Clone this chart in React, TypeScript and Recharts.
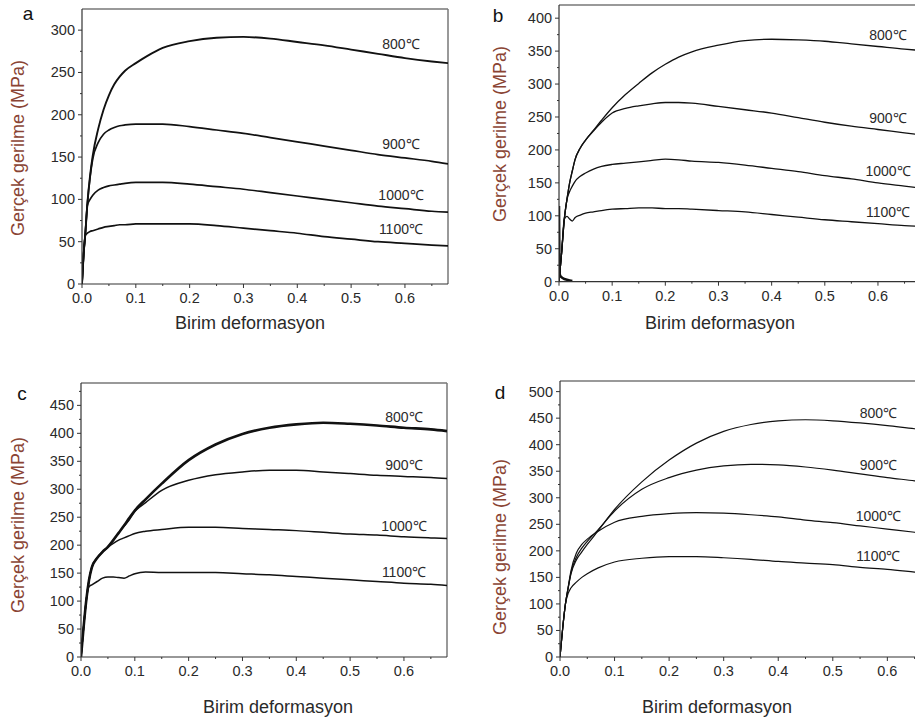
import React from "react";
import { LineChart, Line, XAxis, YAxis, ReferenceLine } from "recharts";

const temps = ["800℃", "900℃", "1000℃", "1100℃"];

// panel a
const strainA = [0, 0.003, 0.006, 0.01, 0.015, 0.02, 0.03, 0.04, 0.05, 0.06, 0.07, 0.08, 0.1, 0.12, 0.15, 0.2, 0.25, 0.3, 0.35, 0.4, 0.45, 0.5, 0.55, 0.6, 0.65, 0.68];
const a800 = [0, 35, 58, 95, 128, 152, 183, 206, 223, 236, 245, 252, 261, 269, 279, 287, 291, 292, 290, 286, 282, 277, 272, 267, 263, 261];
const a900 = [0, 35, 58, 95, 126, 148, 167, 177, 182, 185, 187, 188, 189, 189, 189, 186, 182, 178, 173, 168, 163, 158, 153, 149, 145, 142];
const a1000 = [0, 35, 58, 93, 100, 105, 111, 114, 116, 117, 118, 119, 120, 120, 120, 118, 115, 112, 108, 104, 100, 96, 92, 89, 86, 85];
const a1100 = [0, 35, 57, 60, 62, 63, 65, 67, 68, 69, 70, 70, 71, 71, 71, 71, 69, 66, 63, 60, 56, 53, 50, 48, 46, 45];

// panel b
const strainB = [0, 0.005, 0.01, 0.015, 0.02, 0.025, 0.03, 0.04, 0.05, 0.065, 0.08, 0.1, 0.125, 0.15, 0.175, 0.2, 0.225, 0.25, 0.3, 0.35, 0.4, 0.45, 0.5, 0.55, 0.6, 0.65, 0.68];
const b800 = [0, 45, 95, 125, 150, 168, 185, 203, 215, 230, 245, 264, 284, 301, 317, 330, 341, 349, 359, 366, 368, 367, 365, 361, 357, 353, 351];
const b900 = [0, 45, 95, 125, 150, 168, 185, 203, 215, 229, 242, 256, 263, 267, 270, 272, 272, 271, 266, 261, 256, 249, 242, 236, 231, 226, 223];
const b1000 = [0, 45, 95, 125, 137, 145, 152, 160, 165, 171, 175, 178, 180, 182, 184, 186, 185, 183, 181, 177, 172, 167, 161, 156, 150, 145, 142];
const b1100 = [0, 45, 95, 99, 95, 92, 97, 101, 104, 106, 108, 110, 111, 112, 112, 111, 111, 110, 108, 106, 102, 98, 94, 91, 88, 85, 84];
// the small spike and blob at the origin of panel b
const bNoiseStrain = [0, 0.001, 0.003, 0.006, 0.01, 0.015, 0.02, 0.025];
const bNoise = [115, 12, 8, 6, 4, 3, 2, 1];

// panel c
const strainC = [0, 0.005, 0.01, 0.015, 0.02, 0.03, 0.04, 0.05, 0.06, 0.07, 0.08, 0.09, 0.1, 0.12, 0.15, 0.2, 0.25, 0.3, 0.35, 0.4, 0.45, 0.5, 0.55, 0.6, 0.65, 0.68];
const c800 = [0, 55, 103, 138, 160, 177, 188, 197, 209, 222, 235, 249, 262, 282, 310, 352, 380, 399, 410, 416, 419, 417, 414, 410, 407, 404];
const c900 = [0, 55, 103, 138, 160, 177, 188, 197, 209, 222, 234, 246, 260, 276, 298, 316, 326, 331, 334, 334, 331, 328, 325, 323, 321, 319];
const c1000 = [0, 55, 103, 138, 160, 177, 188, 196, 203, 209, 213, 217, 221, 225, 228, 232, 232, 230, 228, 226, 223, 220, 218, 215, 213, 212];
const c1100 = [0, 55, 103, 126, 129, 135, 141, 143, 143, 142, 141, 145, 149, 152, 151, 151, 151, 149, 147, 144, 141, 138, 135, 132, 130, 128];

// panel d
const strainD = [0, 0.005, 0.01, 0.015, 0.02, 0.03, 0.04, 0.05, 0.07, 0.1, 0.15, 0.2, 0.25, 0.3, 0.35, 0.4, 0.45, 0.5, 0.55, 0.6, 0.65, 0.68];
const d800 = [0, 55, 100, 130, 156, 183, 198, 212, 238, 278, 330, 371, 403, 425, 438, 445, 447, 445, 441, 436, 430, 427];
const d900 = [0, 55, 100, 130, 158, 188, 205, 218, 240, 275, 316, 338, 352, 360, 363, 362, 358, 352, 345, 338, 332, 328];
const d1000 = [0, 55, 100, 132, 162, 196, 212, 222, 237, 254, 265, 270, 272, 271, 268, 264, 258, 253, 247, 241, 235, 231];
const d1100 = [0, 55, 100, 120, 130, 141, 150, 157, 168, 179, 186, 189, 189, 187, 184, 180, 177, 174, 169, 165, 160, 157];

const xTicks = [0, 0.05, 0.1, 0.15, 0.2, 0.25, 0.3, 0.35, 0.4, 0.45, 0.5, 0.55, 0.6, 0.65];
const yTicksA = [0, 25, 50, 75, 100, 125, 150, 175, 200, 225, 250, 275, 300];
const yTicksB = [0, 25, 50, 75, 100, 125, 150, 175, 200, 225, 250, 275, 300, 325, 350, 375, 400];
const yTicksC = [0, 25, 50, 75, 100, 125, 150, 175, 200, 225, 250, 275, 300, 325, 350, 375, 400, 425, 450, 475];
const yTicksD = [0, 25, 50, 75, 100, 125, 150, 175, 200, 225, 250, 275, 300, 325, 350, 375, 400, 425, 450, 475, 500];

const FONT = "'Liberation Sans', Arial, Helvetica, sans-serif";
const TEXT = "#2a2a2a";
const YTITLE = "#8a4434";

const YTick = (props: any) => {
  const { x, y, payload } = props;
  const major = Math.round(payload.value) % 50 === 0;
  return (
    <g>
      <line x1={x} x2={x - (major ? 4 : 2)} y1={y} y2={y} stroke="#333" strokeWidth={1} />
      {major && (
        <text x={x - 7} y={y + 5} textAnchor="end" fontSize={14.5} fill={TEXT} fontFamily={FONT}>
          {payload.value}
        </text>
      )}
    </g>
  );
};

const XTick = (props: any) => {
  const { x, y, payload } = props;
  const major = Math.round(payload.value * 100) % 10 === 0;
  return (
    <g>
      <line x1={x} x2={x} y1={y} y2={y + (major ? 4 : 2)} stroke="#333" strokeWidth={1} />
      {major && (
        <text x={x} y={y + 19} textAnchor="middle" fontSize={14.5} fill={TEXT} fontFamily={FONT}>
          {payload.value.toFixed(1)}
        </text>
      )}
    </g>
  );
};

type PanelProps = {
  left: number;
  top: number;
  w: number;
  h: number;
  yMax: number;
  yTicks: number[];
  strain: number[];
  series: number[][];
  widths: number[];
  labelDx: number;
  labelDy: number;
  noise?: { s: number; v: number }[];
};

const Panel = ({ left, top, w, h, yMax, yTicks, strain, series, widths, labelDx, labelDy, noise }: PanelProps) => {
  const rows = strain.map((s, i) => {
    const r: any = { s };
    series.forEach((arr, k) => (r["t" + k] = arr[i]));
    return r;
  });
  const labelIdx = strain.indexOf(0.6);
  return (
    <div style={{ position: "absolute", left: left - 50, top: top - 5 }}>
      <LineChart width={w + 55} height={h + 35} data={rows} margin={{ top: 5, right: 5, left: 0, bottom: 0 }}>
        <XAxis
          dataKey="s"
          type="number"
          domain={[0, 0.68]}
          ticks={xTicks}
          interval={0}
          height={30}
          tickSize={0}
          tickMargin={0}
          tickLine={false}
          tick={(p: any) => <XTick {...p} />}
          axisLine={{ stroke: "#333", strokeWidth: 1.2 }}
          allowDataOverflow
        />
        <YAxis
          type="number"
          domain={[0, yMax]}
          ticks={yTicks}
          interval={0}
          width={50}
          tickSize={0}
          tickMargin={0}
          tickLine={false}
          tick={(p: any) => <YTick {...p} />}
          axisLine={{ stroke: "#333", strokeWidth: 1.2 }}
          allowDataOverflow
        />
        <ReferenceLine y={yMax} stroke="#777" strokeWidth={1.5} />
        <ReferenceLine x={0.68} stroke="#777" strokeWidth={1.5} />
        {noise && (
          <Line
            data={noise}
            dataKey="v"
            type="linear"
            stroke="#111"
            strokeWidth={2.5}
            dot={false}
            isAnimationActive={false}
          />
        )}
        {series.map((_, k) => (
          <Line
            key={k}
            dataKey={"t" + k}
            type="monotone"
            stroke="#111"
            strokeWidth={widths[k]}
            dot={false}
            isAnimationActive={false}
            label={(p: any) =>
              p.index === labelIdx ? (
                <text
                  key={"l" + k}
                  x={p.x + labelDx}
                  y={p.y + labelDy + 5}
                  textAnchor="middle"
                  fontSize={14}
                  fill={TEXT}
                  fontFamily={FONT}
                >
                  {temps[k]}
                </text>
              ) : (
                <g key={"e" + p.index} />
              )
            }
          />
        ))}
      </LineChart>
    </div>
  );
};

const abs = (x: number, y: number, extra: React.CSSProperties = {}): React.CSSProperties => ({
  position: "absolute",
  left: x,
  top: y,
  transform: "translate(-50%, -50%)",
  whiteSpace: "nowrap",
  fontFamily: FONT,
  lineHeight: 1,
  ...extra,
});

export default function App() {
  const xTitle = { fontSize: 18, color: TEXT };
  const yTitle = { fontSize: 18, color: YTITLE, transform: "translate(-50%, -50%) rotate(-90deg)" };
  const letter = { fontSize: 19, color: "#111" };
  const noiseB = bNoiseStrain.map((s, i) => ({ s, v: bNoise[i] }));
  return (
    <div
      style={{
        position: "fixed",
        left: 0,
        top: 0,
        width: 915,
        height: 721,
        overflow: "hidden",
        background: "#fff",
      }}
    >
      <Panel left={81.7} top={9} w={366} h={275} yMax={325} yTicks={yTicksA} strain={strainA}
        series={[a800, a900, a1000, a1100]} widths={[1.9, 1.7, 1.7, 1.7]} labelDx={-4} labelDy={-14} />
      <Panel left={559.3} top={5} w={361.5} h={276.7} yMax={420} yTicks={yTicksB} strain={strainB}
        series={[b800, b900, b1000, b1100]} widths={[1.3, 1.3, 1.3, 1.3]} labelDx={10} labelDy={-12} noise={noiseB} />
      <Panel left={81} top={383.3} w={366} h={274} yMax={490} yTicks={yTicksC} strain={strainC}
        series={[c800, c900, c1000, c1100]} widths={[2.6, 1.5, 1.5, 1.5]} labelDx={0} labelDy={-11} />
      <Panel left={560} top={380.7} w={371} h={276} yMax={520} yTicks={yTicksD} strain={strainD}
        series={[d800, d900, d1000, d1100]} widths={[1.2, 1.2, 1.2, 1.2]} labelDx={-9} labelDy={-13} />

      <div style={abs(28, 13, letter)}>a</div>
      <div style={abs(498, 15, letter)}>b</div>
      <div style={abs(22, 393, letter)}>c</div>
      <div style={abs(500, 392, letter)}>d</div>

      <div style={abs(250, 323, xTitle)}>Birim deformasyon</div>
      <div style={abs(720, 323, xTitle)}>Birim deformasyon</div>
      <div style={abs(278, 707, xTitle)}>Birim deformasyon</div>
      <div style={abs(717, 707, xTitle)}>Birim deformasyon</div>

      <div style={abs(18, 148, yTitle)}>Gerçek gerilme (MPa)</div>
      <div style={abs(500, 134, yTitle)}>Gerçek gerilme (MPa)</div>
      <div style={abs(18, 525, yTitle)}>Gerçek gerilme (MPa)</div>
      <div style={abs(500, 547, yTitle)}>Gerçek gerilme (MPa)</div>
    </div>
  );
}
